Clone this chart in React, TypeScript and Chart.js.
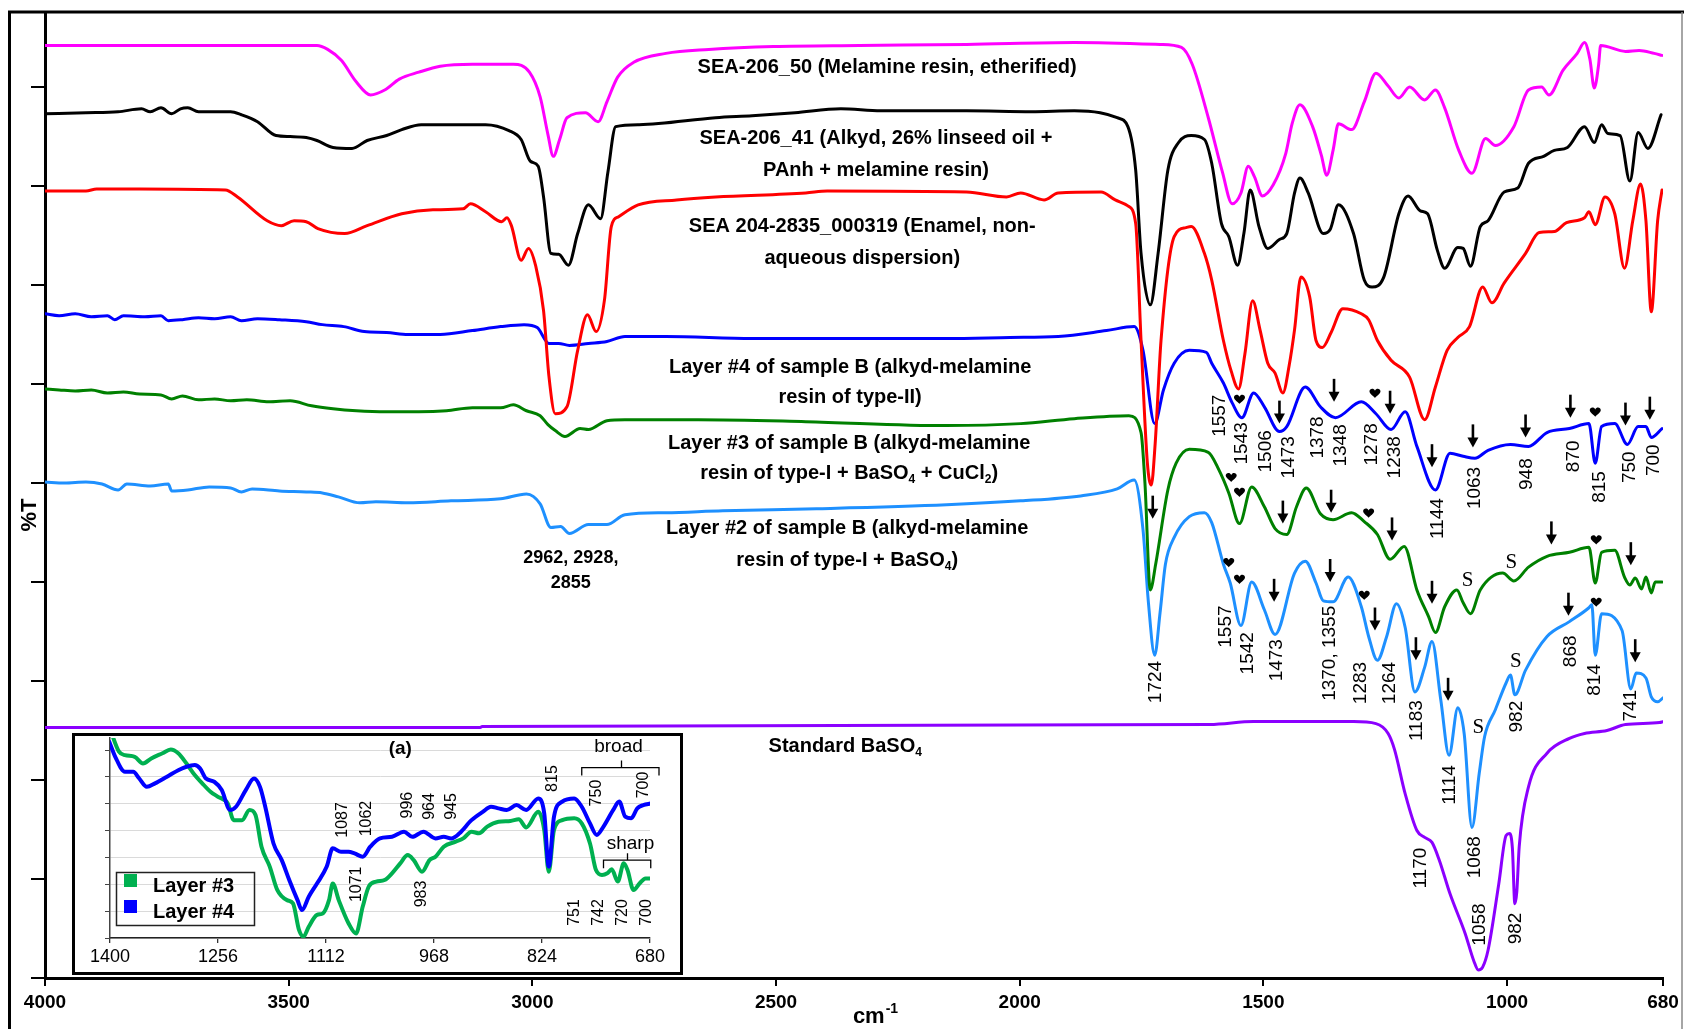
import React, { useEffect, useRef } from 'react';
import { Chart, registerables } from 'chart.js';

Chart.register(...registerables);

const SANS = '"Liberation Sans", Arial, Helvetica, sans-serif';
const SERIF = '"Liberation Serif", "Times New Roman", serif';

type Pt = [number, number];
type Note = [string, number, number];

// Axis ticks
const wavenumberTicks = [4000, 3500, 3000, 2500, 2000, 1500, 1000, 680];
const offsetTicks = [0, 10, 20, 30, 40, 50, 60, 70, 80, 90];
const insetTicks = [1400, 1256, 1112, 968, 824, 680];
const insetLevels = [0, 1, 2, 3, 4, 5, 6, 7];

// Spectra: [wavenumber (cm-1), stacked %T]
const melamineEtherified: Pt[] = [
  [4000, 94.2], [3442, 94.2], [3420, 93.8], [3392, 92.7], [3361, 90.5], [3332, 89.2], [3303, 89.7], [3273, 90.8],
  [3233, 91.5], [3189, 92.1], [3123, 92.3], [3039, 92.3], [3006, 91.5], [2984, 89.0], [2968, 85.2], [2957, 83.0],
  [2944, 84.7], [2929, 86.9], [2891, 87.4], [2865, 86.5], [2847, 88.5], [2825, 91.0], [2792, 92.5], [2726, 93.4],
  [2638, 93.8], [2505, 94.1], [2329, 94.2], [2109, 94.3], [1888, 94.5], [1712, 94.3], [1668, 94.0], [1646, 92.3],
  [1613, 86.9], [1584, 81.4], [1564, 78.2], [1546, 79.3], [1531, 82.0], [1518, 80.9], [1502, 79.0], [1480, 80.1],
  [1454, 83.3], [1441, 86.3], [1425, 88.2], [1399, 86.0], [1381, 83.1], [1370, 81.1], [1357, 83.6], [1346, 86.3],
  [1319, 85.7], [1293, 88.5], [1269, 91.4], [1244, 90.1], [1222, 88.9], [1200, 90.0], [1169, 88.7], [1147, 89.7],
  [1128, 87.9], [1099, 83.6], [1072, 81.3], [1044, 84.8], [1024, 84.1], [986, 86.0], [956, 89.7], [929, 90.0],
  [914, 89.2], [885, 91.7], [856, 93.4], [841, 94.5], [830, 92.8], [821, 89.9], [812, 92.3], [808, 94.2],
  [757, 93.6], [729, 93.7], [698, 93.4], [682, 93.2],
];

const alkydLinseed: Pt[] = [
  [4000, 87.3], [3916, 87.4], [3850, 87.5], [3802, 87.8], [3784, 87.5], [3762, 87.9], [3740, 87.3], [3722, 87.8],
  [3707, 87.9], [3685, 87.5], [3619, 87.5], [3597, 87.2], [3564, 86.5], [3526, 85.1], [3497, 85.0], [3464, 84.9],
  [3442, 84.6], [3409, 83.9], [3370, 83.8], [3339, 84.6], [3299, 85.1], [3268, 85.7], [3228, 86.2], [3096, 86.2],
  [3048, 85.6], [3023, 84.7], [3004, 82.5], [2988, 82.0], [2977, 78.9], [2962, 73.2], [2946, 73.1], [2926, 72.0],
  [2907, 75.2], [2885, 78.1], [2860, 76.7], [2845, 81.4], [2829, 86.0], [2781, 86.2], [2624, 86.9], [2549, 87.1],
  [2461, 87.4], [2367, 87.8], [2285, 87.6], [2109, 87.6], [1976, 87.5], [1888, 87.6], [1835, 87.4], [1800, 86.9],
  [1778, 86.0], [1762, 81.6], [1751, 73.2], [1732, 68.0], [1716, 73.2], [1696, 81.6], [1674, 84.4], [1648, 85.1],
  [1621, 84.7], [1606, 82.3], [1586, 76.2], [1571, 74.9], [1553, 72.0], [1540, 75.2], [1527, 79.6], [1509, 75.9],
  [1491, 73.7], [1467, 74.6], [1452, 75.2], [1436, 79.3], [1425, 80.8], [1408, 79.3], [1377, 75.2], [1363, 75.6],
  [1346, 78.1], [1315, 75.2], [1293, 70.5], [1277, 69.8], [1253, 70.8], [1222, 77.2], [1203, 79.0], [1178, 77.5],
  [1163, 77.2], [1143, 73.5], [1128, 71.7], [1101, 73.8], [1090, 73.7], [1075, 71.9], [1055, 75.9], [1039, 76.5],
  [1006, 79.4], [978, 79.8], [956, 82.3], [925, 83.0], [903, 83.6], [876, 83.9], [841, 86.0], [821, 84.4],
  [806, 86.2], [793, 85.3], [768, 85.1], [748, 80.5], [731, 85.4], [711, 83.8], [684, 87.2],
];

const enamelNAD: Pt[] = [
  [4000, 79.5], [3916, 79.5], [3894, 79.7], [3806, 79.7], [3630, 79.6], [3605, 78.9], [3544, 76.5], [3515, 76.0],
  [3489, 76.5], [3464, 76.4], [3440, 75.7], [3385, 75.2], [3339, 76.0], [3268, 77.2], [3204, 77.6], [3142, 77.7],
  [3127, 78.2], [3096, 77.4], [3063, 76.4], [3052, 76.8], [3043, 76.0], [3023, 72.5], [3008, 73.7], [2993, 71.9],
  [2977, 67.4], [2966, 60.8], [2953, 57.0], [2929, 57.7], [2907, 63.4], [2887, 67.0], [2869, 65.3], [2852, 68.5],
  [2838, 75.9], [2823, 76.9], [2783, 78.1], [2704, 78.6], [2624, 78.9], [2439, 79.3], [2395, 79.5], [2109, 79.4],
  [2027, 78.9], [1998, 79.3], [1950, 78.6], [1921, 79.3], [1833, 79.4], [1804, 78.6], [1778, 78.0], [1762, 76.2],
  [1751, 64.4], [1738, 52.0], [1730, 49.8], [1722, 54.0], [1710, 64.4], [1683, 74.9], [1659, 75.8], [1648, 75.9],
  [1621, 73.2], [1606, 70.5], [1582, 64.4], [1566, 61.3], [1551, 59.5], [1538, 63.0], [1522, 68.4], [1507, 65.5],
  [1491, 62.1], [1476, 61.1], [1460, 59.1], [1447, 61.9], [1436, 65.5], [1423, 70.8], [1405, 68.8], [1392, 64.4],
  [1379, 63.7], [1361, 65.2], [1337, 67.6], [1299, 67.1], [1284, 66.5], [1266, 64.4], [1238, 62.4], [1200, 60.7],
  [1169, 56.4], [1147, 59.7], [1123, 63.4], [1101, 64.7], [1077, 65.8], [1050, 69.8], [1031, 68.2], [1006, 70.2],
  [962, 73.2], [934, 75.3], [903, 75.4], [878, 76.3], [841, 76.8], [832, 77.4], [819, 76.1], [799, 78.9],
  [779, 77.2], [759, 71.7], [742, 76.5], [726, 80.2], [715, 76.5], [704, 67.3], [691, 76.5], [682, 79.6],
];

const layer4: Pt[] = [
  [4000, 67.1], [3971, 66.9], [3938, 67.1], [3905, 66.8], [3872, 66.9], [3857, 66.5], [3839, 66.9], [3795, 66.8],
  [3762, 66.9], [3747, 66.4], [3718, 66.5], [3685, 66.7], [3652, 66.6], [3619, 66.8], [3597, 66.4], [3564, 66.6],
  [3519, 66.5], [3464, 66.3], [3431, 66.0], [3387, 65.8], [3345, 65.3], [3299, 65.2], [3255, 65.0], [3189, 65.0],
  [3123, 65.4], [3065, 65.8], [3017, 66.0], [2990, 65.7], [2966, 64.1], [2946, 64.1], [2924, 63.9], [2885, 64.1],
  [2847, 64.3], [2810, 64.8], [2726, 64.8], [2549, 64.6], [2426, 64.6], [2329, 64.6], [2150, 64.6], [2020, 64.7],
  [1921, 64.8], [1822, 65.4], [1765, 65.8], [1747, 63.4], [1723, 56.0], [1705, 59.4], [1683, 62.1], [1652, 63.4],
  [1617, 63.2], [1606, 62.1], [1582, 60.1], [1564, 58.1], [1544, 56.6], [1520, 59.1], [1498, 57.7], [1467, 55.2],
  [1452, 55.7], [1414, 59.7], [1383, 57.7], [1352, 56.6], [1299, 58.2], [1269, 57.0], [1238, 55.4], [1209, 57.2],
  [1185, 53.7], [1147, 49.3], [1117, 53.0], [1090, 52.7], [1066, 52.5], [1039, 53.3], [993, 53.9], [956, 53.7],
  [918, 55.1], [872, 55.5], [832, 56.0], [819, 52.0], [806, 55.7], [779, 56.0], [753, 53.9], [731, 55.7],
  [715, 55.7], [704, 54.6], [682, 55.5],
];

const layer3: Pt[] = [
  [4000, 59.5], [3971, 59.4], [3938, 59.3], [3905, 59.4], [3872, 59.1], [3839, 59.2], [3806, 59.0], [3762, 58.9],
  [3740, 58.5], [3718, 58.8], [3685, 58.4], [3652, 58.5], [3619, 58.3], [3586, 58.4], [3541, 58.2], [3497, 58.3],
  [3453, 57.8], [3409, 57.5], [3361, 57.3], [3299, 57.2], [3233, 57.2], [3176, 57.3], [3123, 57.6], [3065, 57.6],
  [3039, 57.9], [3012, 57.3], [2984, 56.8], [2968, 55.9], [2953, 55.3], [2933, 54.7], [2902, 55.5], [2885, 55.4],
  [2847, 56.3], [2810, 56.4], [2660, 56.4], [2439, 56.2], [2150, 55.8], [1998, 56.0], [1888, 56.5], [1776, 56.8],
  [1751, 55.1], [1743, 50.0], [1732, 39.2], [1721, 41.8], [1696, 49.3], [1679, 52.0], [1652, 53.4], [1613, 53.1],
  [1591, 51.3], [1571, 49.0], [1549, 45.9], [1524, 49.6], [1498, 47.6], [1476, 45.4], [1452, 44.8], [1432, 47.6],
  [1412, 49.5], [1383, 46.9], [1357, 46.3], [1319, 47.0], [1293, 46.1], [1266, 44.8], [1240, 42.3], [1211, 43.6],
  [1185, 39.2], [1161, 36.5], [1147, 34.9], [1128, 37.5], [1103, 39.2], [1090, 37.9], [1075, 36.8], [1055, 39.2],
  [1009, 40.9], [986, 40.1], [956, 41.5], [918, 42.6], [872, 43.0], [832, 43.5], [819, 39.9], [806, 43.0],
  [779, 43.2], [759, 40.5], [748, 39.7], [737, 40.4], [724, 39.3], [715, 40.5], [704, 38.9], [696, 40.0],
  [682, 40.0],
];

const layer2: Pt[] = [
  [4000, 50.1], [3960, 50.0], [3916, 50.1], [3883, 49.9], [3850, 49.3], [3832, 49.9], [3784, 49.7], [3747, 49.9],
  [3740, 49.2], [3707, 49.3], [3663, 49.6], [3619, 49.5], [3597, 49.1], [3575, 49.4], [3519, 49.2], [3464, 49.1],
  [3431, 49.0], [3398, 48.6], [3354, 48.0], [3321, 48.1], [3255, 48.0], [3167, 48.2], [3065, 48.4], [3012, 48.9],
  [2984, 47.9], [2962, 45.5], [2942, 45.6], [2924, 44.9], [2885, 45.8], [2847, 45.8], [2810, 46.8], [2726, 47.0],
  [2609, 47.2], [2417, 47.4], [2150, 47.8], [1998, 48.2], [1875, 48.7], [1800, 49.4], [1765, 50.3], [1747, 45.3],
  [1736, 38.0], [1723, 32.6], [1712, 36.9], [1701, 41.8], [1683, 44.5], [1652, 46.6], [1621, 47.0], [1606, 46.0],
  [1582, 41.8], [1568, 39.9], [1546, 35.6], [1524, 40.0], [1498, 37.2], [1476, 34.7], [1436, 40.9], [1414, 42.1],
  [1392, 39.9], [1377, 38.1], [1357, 38.0], [1326, 40.5], [1299, 37.5], [1284, 34.5], [1266, 32.1], [1247, 34.5],
  [1227, 37.8], [1209, 35.4], [1189, 28.9], [1169, 31.4], [1154, 34.0], [1136, 28.1], [1119, 22.5], [1101, 27.3],
  [1088, 24.7], [1072, 15.2], [1057, 20.7], [1046, 24.4], [1024, 27.1], [1002, 29.8], [993, 30.6], [984, 28.6],
  [962, 31.1], [918, 34.5], [872, 36.0], [832, 37.4], [826, 37.7], [819, 32.6], [806, 36.8], [764, 35.1],
  [746, 29.2], [735, 30.8], [715, 30.3], [704, 28.4], [691, 27.9], [680, 28.3],
];

const bariteStandard: Pt[] = [
  [4000, 25.3], [3107, 25.3], [3103, 25.4], [1610, 25.6], [1520, 25.9], [1315, 25.9], [1269, 25.7], [1244, 24.7],
  [1231, 23.1], [1209, 18.6], [1185, 14.9], [1169, 14.2], [1154, 13.7], [1139, 11.9], [1117, 8.5], [1086, 4.5],
  [1068, 1.7], [1059, 0.8], [1050, 1.1], [1039, 2.8], [1017, 9.5], [1002, 14.4], [995, 14.6], [989, 13.1],
  [984, 7.5], [980, 8.7], [975, 13.3], [956, 19.3], [918, 22.7], [872, 24.2], [841, 24.7], [795, 25.0],
  [757, 25.6], [687, 25.8], [680, 25.9],
];

// Inset (a): 1400-680 cm-1 detail
const insetLayer3: Pt[] = [
  [1401, 7.87], [1388, 6.94], [1380, 6.81], [1367, 6.75], [1356, 6.5], [1345, 6.69], [1330, 6.88], [1319, 7.02],
  [1309, 6.88], [1298, 6.5], [1287, 6.07], [1277, 5.76], [1266, 5.45], [1256, 5.26], [1243, 5.01], [1235, 4.39],
  [1224, 4.39], [1214, 4.77], [1206, 4.58], [1198, 3.4], [1187, 2.66], [1177, 1.79], [1164, 1.41], [1156, 1.29],
  [1148, 0.3], [1142, 0.05], [1135, 0.42], [1124, 0.86], [1116, 0.92], [1108, 1.41], [1103, 2.03], [1095, 1.41],
  [1082, 0.55], [1072, 0.17], [1063, 1.17], [1055, 1.91], [1045, 2.1], [1034, 2.16], [1024, 2.41], [1013, 2.78],
  [1003, 3.09], [995, 2.9], [984, 2.47], [974, 2.9], [966, 3.03], [955, 3.4], [939, 3.59], [929, 3.71],
  [918, 3.96], [908, 3.9], [897, 4.15], [882, 4.33], [866, 4.36], [855, 4.42], [845, 4.12], [829, 4.7],
  [821, 4.02], [815, 2.47], [808, 4.02], [797, 4.39], [781, 4.46], [771, 4.27], [760, 3.52], [752, 2.53],
  [744, 2.35], [737, 2.41], [731, 2.56], [723, 2.1], [715, 2.78], [710, 2.53], [702, 1.79], [694, 2.03],
  [686, 2.22], [679, 2.22],
];

const insetLayer4: Pt[] = [
  [1401, 7.31], [1393, 6.75], [1380, 6.19], [1369, 6.19], [1361, 5.94], [1351, 5.63], [1340, 5.76], [1324, 6.01],
  [1309, 6.25], [1298, 6.38], [1287, 6.44], [1280, 6.32], [1272, 5.94], [1261, 5.82], [1251, 5.51], [1240, 4.77],
  [1232, 4.89], [1219, 5.51], [1208, 5.94], [1200, 5.63], [1193, 4.89], [1182, 3.52], [1171, 2.9], [1161, 2.16],
  [1150, 1.41], [1144, 1.04], [1135, 1.54], [1124, 2.03], [1111, 2.66], [1103, 3.34], [1092, 3.21], [1082, 3.21],
  [1074, 3.15], [1063, 3.03], [1053, 3.4], [1040, 3.71], [1024, 3.77], [1008, 3.96], [997, 3.77], [982, 3.96],
  [966, 3.71], [955, 3.77], [945, 3.71], [934, 3.9], [918, 4.39], [903, 4.7], [892, 4.89], [882, 4.83],
  [871, 4.77], [858, 4.95], [845, 4.77], [829, 5.2], [821, 4.64], [815, 2.66], [808, 4.52], [797, 5.08],
  [781, 5.2], [771, 4.89], [760, 4.27], [751, 3.84], [742, 4.15], [729, 4.77], [721, 5.08], [713, 4.52],
  [705, 4.46], [697, 4.83], [689, 4.95], [679, 5.01],
];

// Sample captions: [text ({n} = subscript), wavenumber of centre, level]
const sampleCaptions: Note[] = [
  ['SEA-206_50 (Melamine resin, etherified)', 2272, 92.0],
  ['SEA-206_41 (Alkyd, 26% linseed oil +', 2295, 84.8],
  ['PAnh + melamine resin)', 2295, 81.6],
  ['SEA 204-2835_000319 (Enamel, non-', 2323, 75.9],
  ['aqueous dispersion)', 2323, 72.7],
  ['Layer #4 of sample B (alkyd-melamine', 2348, 61.7],
  ['resin of type-II)', 2348, 58.6],
  ['Layer #3 of sample B (alkyd-melamine', 2350, 54.0],
  ['resin of type-I + BaSO{4} + CuCl{2})', 2350, 51.0],
  ['Layer #2 of sample B (alkyd-melamine', 2354, 45.4],
  ['resin of type-I + BaSO{4})', 2354, 42.2],
  ['Standard BaSO{4}', 2358, 23.4],
];

const chBands: Note[] = [
  ['2962, 2928,', 2921, 42.4],
  ['2855', 2921, 39.9],
];

// Band positions written vertically
const bandLabels: Note[] = [
  ['1557', 1590, 56.8], ['1543', 1544, 54.0], ['1506', 1496, 53.2], ['1473', 1447, 52.6], ['1378', 1388, 54.6],
  ['1348', 1341, 53.8], ['1278', 1277, 53.9], ['1238', 1231, 52.6], ['1144', 1143, 46.4], ['1063', 1066, 49.5],
  ['948', 960, 50.9], ['870', 863, 52.7], ['815', 810, 49.6], ['750', 748, 51.6], ['700', 698, 52.3],
  ['1724', 1721, 29.9], ['1557', 1578, 35.5], ['1542', 1533, 32.8], ['1473', 1472, 32.1], ['1370, 1355', 1363, 32.8],
  ['1283', 1300, 29.8], ['1264', 1240, 29.8], ['1183', 1185, 26.0], ['1114', 1117, 19.5], ['1068', 1066, 12.2],
  ['982', 980, 26.4], ['868', 870, 33.0], ['814', 819, 30.1], ['741', 746, 27.5],
  ['1170', 1178, 11.1], ['1058', 1055, 5.4], ['982', 982, 5.0],
];

// Arrow tips, heart marks and "S" marks: [wavenumber, level]
const arrowTips: Pt[] = [
  [1467, 56.0], [1355, 58.2], [1240, 57.0], [1154, 51.6], [1070, 53.6], [962, 54.6], [870, 56.6], [757, 55.8], [707, 56.4],
  [1727, 46.4], [1460, 45.9], [1361, 47.0], [1236, 44.2], [1154, 37.8], [909, 43.8], [746, 41.7],
  [1478, 38.0], [1363, 40.0], [1271, 35.1], [1187, 32.1], [1121, 28.0], [874, 36.6], [737, 31.9],
];
const heartMarks: Pt[] = [
  [1549, 58.5], [1271, 59.1], [819, 57.2],
  [1566, 50.6], [1549, 49.1], [1284, 47.0], [817, 44.3],
  [1571, 42.0], [1549, 40.3], [1293, 38.7], [817, 38.0],
];
const sMarks: Pt[] = [[1081, 40.2], [991, 42.0], [1059, 25.3], [982, 32.0]];

const insetBandLabels: Note[] = [
  ['1087', 1090, 4.4], ['1062', 1058, 4.45], ['996', 1003, 4.95], ['964', 974, 4.9], ['945', 945, 4.9],
  ['815', 810, 5.94], ['750', 751, 5.4], ['700', 688, 5.7], ['1071', 1071, 2.0], ['983', 984, 1.64],
  ['751', 780, 0.95], ['742', 749, 0.95], ['720', 717, 0.95], ['700', 685, 0.95],
];

type Seg = { t: string; sub: boolean };
function splitRich(s: string): Seg[] {
  const out: Seg[] = [];
  const re = /\{(\d+)\}/g;
  let last = 0;
  let m: RegExpExecArray | null;
  while ((m = re.exec(s))) {
    if (m.index > last) out.push({ t: s.slice(last, m.index), sub: false });
    out.push({ t: m[1], sub: true });
    last = re.lastIndex;
  }
  if (last < s.length) out.push({ t: s.slice(last), sub: false });
  return out;
}

function drawRich(ctx: CanvasRenderingContext2D, s: string, cx: number, cy: number, size: number, weight: string) {
  const segs = splitRich(s);
  const big = `${weight} ${size}px ${SANS}`;
  const small = `${weight} ${Math.round(size * 0.62)}px ${SANS}`;
  let total = 0;
  const widths = segs.map((g) => {
    ctx.font = g.sub ? small : big;
    const w = ctx.measureText(g.t).width;
    total += w;
    return w;
  });
  let x = cx - total / 2;
  ctx.textAlign = 'left';
  ctx.textBaseline = 'middle';
  segs.forEach((g, i) => {
    ctx.font = g.sub ? small : big;
    ctx.fillText(g.t, x, cy + (g.sub ? size * 0.32 : 0));
    x += widths[i];
  });
}

function drawVertical(ctx: CanvasRenderingContext2D, s: string, x: number, y: number) {
  ctx.save();
  ctx.translate(x, y);
  ctx.rotate(-Math.PI / 2);
  ctx.textAlign = 'center';
  ctx.textBaseline = 'middle';
  ctx.fillText(s, 0, 0);
  ctx.restore();
}

function drawArrow(ctx: CanvasRenderingContext2D, x: number, tip: number) {
  ctx.lineWidth = 2.6;
  ctx.beginPath();
  ctx.moveTo(x, tip - 23);
  ctx.lineTo(x, tip - 8);
  ctx.stroke();
  ctx.beginPath();
  ctx.moveTo(x - 5.5, tip - 10);
  ctx.lineTo(x + 5.5, tip - 10);
  ctx.lineTo(x, tip);
  ctx.closePath();
  ctx.fill();
}

function drawHeart(ctx: CanvasRenderingContext2D, x: number, y: number, w: number) {
  const h = w * 0.9;
  ctx.beginPath();
  ctx.moveTo(x, y + h * 0.5);
  ctx.bezierCurveTo(x - w * 0.12, y + h * 0.32, x - w * 0.5, y + h * 0.08, x - w * 0.5, y - h * 0.15);
  ctx.bezierCurveTo(x - w * 0.5, y - h * 0.48, x - w * 0.1, y - h * 0.52, x, y - h * 0.22);
  ctx.bezierCurveTo(x + w * 0.1, y - h * 0.52, x + w * 0.5, y - h * 0.48, x + w * 0.5, y - h * 0.15);
  ctx.bezierCurveTo(x + w * 0.5, y + h * 0.08, x + w * 0.12, y + h * 0.32, x, y + h * 0.5);
  ctx.fill();
}

const toXY = (pts: Pt[]) => pts.map(([x, y]) => ({ x, y }));
const plainNumber = (v: number | string) => String(v);

const spectrumMarks = {
  id: 'spectrumMarks',
  afterDatasetsDraw(chart: any) {
    const { ctx } = chart;
    const xs = chart.scales.x;
    const ys = chart.scales.y;
    const px = (w: number) => xs.getPixelForValue(w);
    const py = (v: number) => ys.getPixelForValue(v);
    ctx.save();
    ctx.fillStyle = '#000';
    ctx.strokeStyle = '#000';
    for (const [t, w, v] of sampleCaptions) drawRich(ctx, t, px(w), py(v), 20, 'bold');
    for (const [t, w, v] of chBands) drawRich(ctx, t, px(w), py(v), 18, 'bold');
    ctx.font = `19px ${SANS}`;
    for (const [t, w, v] of bandLabels) drawVertical(ctx, t, px(w), py(v));
    for (const [w, v] of arrowTips) drawArrow(ctx, px(w), py(v));
    for (const [w, v] of heartMarks) drawHeart(ctx, px(w), py(v), 11);
    ctx.font = `21px ${SERIF}`;
    ctx.textAlign = 'center';
    ctx.textBaseline = 'middle';
    for (const [w, v] of sMarks) ctx.fillText('S', px(w), py(v));
    ctx.restore();
  },
  afterDraw(chart: any) {
    const { ctx, width, height } = chart;
    ctx.save();
    ctx.strokeStyle = '#000';
    ctx.lineWidth = 3;
    ctx.beginPath();
    ctx.moveTo(9.5, height);
    ctx.lineTo(9.5, 12);
    ctx.lineTo(width, 12);
    ctx.stroke();
    ctx.strokeStyle = '#888';
    ctx.lineWidth = 1.5;
    ctx.beginPath();
    ctx.moveTo(1682, 12);
    ctx.lineTo(1682, height);
    ctx.stroke();
    // axis titles
    ctx.fillStyle = '#000';
    ctx.save();
    ctx.translate(30, 515);
    ctx.rotate(-Math.PI / 2);
    ctx.font = `bold 22px ${SANS}`;
    ctx.textAlign = 'center';
    ctx.textBaseline = 'middle';
    ctx.fillText('%T', 0, 0);
    ctx.restore();
    ctx.textBaseline = 'middle';
    ctx.textAlign = 'left';
    ctx.font = `bold 22px ${SANS}`;
    const cmW = ctx.measureText('cm').width;
    ctx.font = `bold 14px ${SANS}`;
    const supW = ctx.measureText('-1').width;
    const x0 = 875 - (cmW + supW) / 2;
    ctx.font = `bold 22px ${SANS}`;
    ctx.fillText('cm', x0, 1017);
    ctx.font = `bold 14px ${SANS}`;
    ctx.fillText('-1', x0 + cmW + 1, 1009);
    ctx.restore();
  },
};

const insetMarks = {
  id: 'insetMarks',
  beforeDraw(chart: any) {
    const { ctx, width, height } = chart;
    ctx.save();
    ctx.fillStyle = '#fff';
    ctx.fillRect(0, 0, width, height);
    ctx.restore();
  },
  afterDatasetsDraw(chart: any) {
    const { ctx } = chart;
    const xs = chart.scales.x;
    const ys = chart.scales.y;
    const px = (w: number) => xs.getPixelForValue(w);
    const py = (v: number) => ys.getPixelForValue(v);
    ctx.save();
    ctx.fillStyle = '#000';
    ctx.strokeStyle = '#000';
    ctx.font = `16px ${SANS}`;
    for (const [t, w, v] of insetBandLabels) drawVertical(ctx, t, px(w), py(v));
    drawRich(ctx, '(a)', px(1013), py(7.04), 19, 'bold');
    drawRich(ctx, 'broad', px(722), py(7.12), 19, 'normal');
    drawRich(ctx, 'sharp', px(706), py(3.52), 19, 'normal');
    ctx.lineWidth = 1.3;
    const bracket = (a: number, b: number, lvl: number, c: number) => {
      const y = py(lvl);
      ctx.beginPath();
      ctx.moveTo(px(a), y + 8);
      ctx.lineTo(px(a), y);
      ctx.lineTo(px(b), y);
      ctx.lineTo(px(b), y + 8);
      ctx.moveTo(px(c), y);
      ctx.lineTo(px(c), y - 7);
      ctx.stroke();
    };
    bracket(771, 668, 6.35, 718);
    bracket(742, 679, 2.9, 710);
    // legend
    ctx.lineWidth = 1.5;
    ctx.strokeStyle = '#222';
    ctx.strokeRect(44.5, 139.5, 138, 53);
    ctx.fillStyle = '#00B050';
    ctx.fillRect(52, 141, 13, 13);
    ctx.fillStyle = '#0000FF';
    ctx.fillRect(52, 167, 13, 13);
    ctx.fillStyle = '#000';
    ctx.font = `bold 20px ${SANS}`;
    ctx.textAlign = 'left';
    ctx.textBaseline = 'middle';
    ctx.fillText('Layer #3', 81, 153);
    ctx.fillText('Layer #4', 81, 179);
    ctx.restore();
  },
  afterDraw(chart: any) {
    const { ctx, width, height } = chart;
    ctx.save();
    ctx.strokeStyle = '#000';
    ctx.lineWidth = 3;
    ctx.strokeRect(1.5, 1.5, width - 3, height - 3);
    ctx.restore();
  },
};

export default function App() {
  const mainRef = useRef<HTMLCanvasElement>(null);
  const insetRef = useRef<HTMLCanvasElement>(null);

  useEffect(() => {
    document.body.style.margin = '0';
    document.body.style.overflow = 'hidden';

    const series = [
      { label: 'SEA-206_50', data: toXY(melamineEtherified), borderColor: '#FF00FF' },
      { label: 'SEA-206_41', data: toXY(alkydLinseed), borderColor: '#000000' },
      { label: 'SEA 204-2835_000319', data: toXY(enamelNAD), borderColor: '#FF0000' },
      { label: 'Layer #4', data: toXY(layer4), borderColor: '#0000FF' },
      { label: 'Layer #3', data: toXY(layer3), borderColor: '#008000' },
      { label: 'Layer #2', data: toXY(layer2), borderColor: '#1E90FF' },
      { label: 'Standard BaSO4', data: toXY(bariteStandard), borderColor: '#8B00FF' },
    ];

    const main = new Chart(mainRef.current as HTMLCanvasElement, {
      type: 'line',
      data: {
        datasets: series.map((s) => ({
          ...s, borderWidth: 3, pointRadius: 0, cubicInterpolationMode: 'monotone', fill: false,
        })),
      },
      options: {
        responsive: false,
        animation: false,
        devicePixelRatio: 1,
        layout: { padding: { top: 12, right: 21, left: 0, bottom: 0 } },
        plugins: { legend: { display: false }, tooltip: { enabled: false } },
        elements: { line: { borderJoinStyle: 'round', borderCapStyle: 'round' } },
        scales: {
          x: {
            type: 'linear',
            min: 680,
            max: 4000,
            reverse: true,
            afterBuildTicks: (s: any) => { s.ticks = wavenumberTicks.map((v) => ({ value: v })); },
            afterFit: (s: any) => { s.height = 51; },
            grid: { drawOnChartArea: false, drawTicks: true, tickLength: 8, color: '#000', lineWidth: 2 },
            border: { display: true, color: '#000', width: 3 },
            ticks: {
              color: '#000', font: { family: SANS, size: 19, weight: 'bold' }, padding: 5,
              maxRotation: 0, autoSkip: false, callback: plainNumber,
            },
          },
          y: {
            type: 'linear',
            min: 0,
            max: 97.58,
            afterBuildTicks: (s: any) => { s.ticks = offsetTicks.map((v) => ({ value: v })); },
            afterFit: (s: any) => { s.width = 45; },
            grid: { drawOnChartArea: false, drawTicks: true, tickLength: 14, color: '#000', lineWidth: 2 },
            border: { display: true, color: '#000', width: 3 },
            ticks: { display: false },
          },
        },
      },
      plugins: [spectrumMarks],
    } as any);

    const inset = new Chart(insetRef.current as HTMLCanvasElement, {
      type: 'line',
      data: {
        datasets: [
          { label: 'Layer #4', data: toXY(insetLayer4), borderColor: '#0000FF', borderWidth: 4, pointRadius: 0, cubicInterpolationMode: 'monotone' },
          { label: 'Layer #3', data: toXY(insetLayer3), borderColor: '#00B050', borderWidth: 4, pointRadius: 0, cubicInterpolationMode: 'monotone' },
        ],
      },
      options: {
        responsive: false,
        animation: false,
        devicePixelRatio: 1,
        layout: { padding: { top: 5, right: 33, left: 0, bottom: 0 } },
        plugins: { legend: { display: false }, tooltip: { enabled: false } },
        elements: { line: { borderJoinStyle: 'round', borderCapStyle: 'round' } },
        scales: {
          x: {
            type: 'linear',
            min: 680,
            max: 1400,
            reverse: true,
            afterBuildTicks: (s: any) => { s.ticks = insetTicks.map((v) => ({ value: v })); },
            afterFit: (s: any) => { s.height = 37; },
            grid: { drawOnChartArea: false, drawTicks: true, tickLength: 5, color: '#333', lineWidth: 1.3 },
            border: { display: true, color: '#222', width: 1.5 },
            ticks: {
              color: '#000', font: { family: SANS, size: 18 }, padding: 3, maxRotation: 0, autoSkip: false,
              callback: plainNumber,
            },
          },
          y: {
            type: 'linear',
            min: 0,
            max: 7.45,
            afterBuildTicks: (s: any) => { s.ticks = insetLevels.map((v) => ({ value: v })); },
            afterFit: (s: any) => { s.width = 38; },
            grid: { drawOnChartArea: true, drawTicks: true, tickLength: 5, color: '#DADADA', tickColor: '#444', lineWidth: 1 },
            border: { display: true, color: '#444', width: 1.5 },
            ticks: { display: false },
          },
        },
      },
      plugins: [insetMarks],
    } as any);

    return () => {
      main.destroy();
      inset.destroy();
    };
  }, []);

  return (
    <div style={{ position: 'relative', width: 1684, height: 1029, background: '#fff', overflow: 'hidden' }}>
      <canvas ref={mainRef} width={1684} height={1029} style={{ position: 'absolute', left: 0, top: 0 }} />
      <canvas ref={insetRef} width={611} height={242} style={{ position: 'absolute', left: 72, top: 733 }} />
    </div>
  );
}
